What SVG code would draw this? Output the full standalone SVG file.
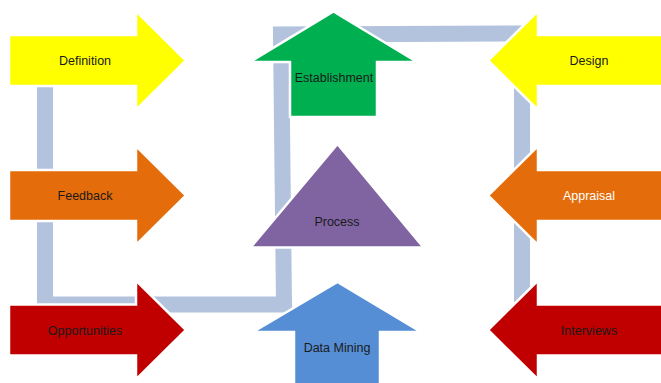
<svg xmlns="http://www.w3.org/2000/svg" width="661" height="383" viewBox="0 0 661 383">
<style>
.shape{stroke:#ffffff;stroke-width:2.5;stroke-linejoin:miter}
.lbl{font-family:"Liberation Sans",Arial,sans-serif;font-size:12.5px;fill:#1a1a1a;text-anchor:middle}
.conn{fill:none;stroke:#B3C3DD;stroke-width:16;stroke-linejoin:miter}
</style>
<rect width="661" height="383" fill="#ffffff"/>
<g id="connectors">
<path class="conn" d="M45,75 L45,304.5 L284,304.5 L281,34.5 L522,33.5 L522,312"/>
</g>
<g id="definition">
<polygon class="shape" fill="#FFFF00" points="9,35 136,35 136,11 186,60.5 136,110 136,86 9,86"/>
<text class="lbl" x="85" y="65">Definition</text>
</g>
<g id="feedback">
<polygon class="shape" fill="#E46C0A" points="9,170 136,170 136,146 186,195.5 136,245 136,221 9,221"/>
<text class="lbl" x="85" y="200">Feedback</text>
</g>
<g id="opportunities">
<polygon class="shape" fill="#C00000" points="9,304.5 136,304.5 136,280.5 186,330 136,379.5 136,355.5 9,355.5"/>
<text class="lbl" x="85" y="334.5">Opportunities</text>
</g>
<g id="design">
<polygon class="shape" fill="#FFFF00" points="665,35 538,35 538,11 488,60.5 538,110 538,86 665,86"/>
<text class="lbl" x="589" y="65">Design</text>
</g>
<g id="appraisal">
<polygon class="shape" fill="#E46C0A" points="665,170 538,170 538,146 488,195.5 538,245 538,221 665,221"/>
<text class="lbl" x="589" y="200" style="fill:#ffffff">Appraisal</text>
</g>
<g id="interviews">
<polygon class="shape" fill="#C00000" points="665,304.5 538,304.5 538,280.5 488,330 538,379.5 538,355.5 665,355.5"/>
<text class="lbl" x="589" y="334.5">Interviews</text>
</g>
<g id="establishment">
<polygon class="shape" fill="#00B050" points="333.5,11.5 417,62 377,62 377,117 290,117 290,62 250,62"/>
<text class="lbl" x="334" y="81.5">Establishment</text>
</g>
<g id="process">
<polygon class="shape" fill="#8064A2" points="337.5,144 423.5,247.5 250.5,247.5"/>
<text class="lbl" x="337" y="226">Process</text>
</g>
<g id="data-mining">
<polygon class="shape" fill="#558ED5" points="337.5,282 421,332 380,332 380,390 294,390 294,332 253,332"/>
<text class="lbl" x="337" y="351.5">Data Mining</text>
</g>
</svg>
